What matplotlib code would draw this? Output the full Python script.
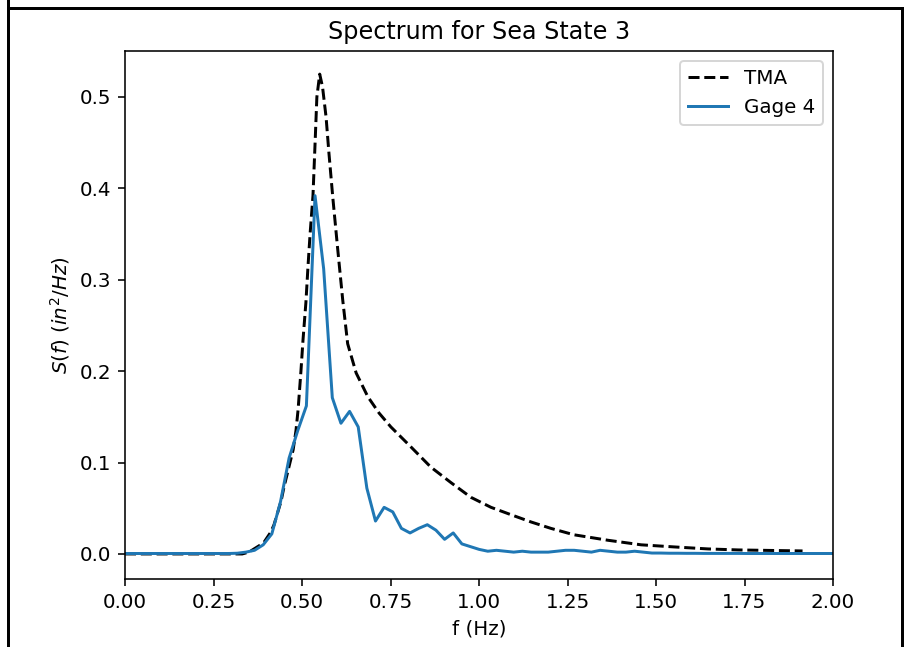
import matplotlib.pyplot as plt
import numpy as np
from matplotlib.lines import Line2D

# Gage 4 measured spectrum, frequency grid step
df = 0.0244
gage4 = [0.0005, 0.0005, 0.0005, 0.0005, 0.0005, 0.0005, 0.0005, 0.0005, 0.0005, 0.0005,
         0.0005, 0.0005, 0.0005, 0.0008, 0.002, 0.004, 0.010, 0.022, 0.057, 0.105,
         0.135, 0.162, 0.392, 0.312, 0.171, 0.143, 0.156, 0.139, 0.072, 0.036,
         0.051, 0.046, 0.028, 0.023, 0.028, 0.032, 0.026, 0.016, 0.023, 0.011,
         0.008, 0.005, 0.003, 0.004, 0.003, 0.002, 0.003, 0.002, 0.002, 0.002,
         0.003, 0.004, 0.004, 0.003, 0.002, 0.004, 0.003, 0.002, 0.002, 0.003,
         0.002, 0.001, 0.001, 0.0008, 0.0008, 0.0007, 0.0007, 0.0006, 0.0006, 0.0006,
         0.0006, 0.0006, 0.0005, 0.0005, 0.0005, 0.0005, 0.0005, 0.0005, 0.0005, 0.0005,
         0.0005, 0.0005, 0.0005]
f_gage = np.arange(len(gage4)) * df

# TMA target spectrum
f_tma = [0.0, 0.331, 0.350, 0.379, 0.393, 0.412, 0.421, 0.441, 0.449, 0.475,
         0.483, 0.489, 0.497, 0.503, 0.511, 0.517, 0.523, 0.531, 0.537, 0.542,
         0.550, 0.558, 0.568, 0.576, 0.587, 0.601, 0.615, 0.629, 0.653, 0.686,
         0.718, 0.751, 0.808, 0.864, 0.921, 0.977, 1.034, 1.090, 1.147, 1.203,
         1.268, 1.364, 1.458, 1.551, 1.647, 1.732, 1.914]
s_tma = [0.0, 0.0, 0.002, 0.009, 0.013, 0.024, 0.032, 0.058, 0.073, 0.114,
         0.135, 0.158, 0.200, 0.235, 0.275, 0.315, 0.351, 0.392, 0.450, 0.500,
         0.525, 0.511, 0.478, 0.439, 0.390, 0.333, 0.278, 0.230, 0.198, 0.172,
         0.154, 0.139, 0.117, 0.095, 0.078, 0.062, 0.051, 0.043, 0.035, 0.028,
         0.021, 0.015, 0.010, 0.0077, 0.0055, 0.0044, 0.0033]

fig = plt.figure(figsize=(9.11 / 1.43, 6.47 / 1.43), dpi=143)
ax = fig.add_axes([125 / 911, 1 - 579 / 647, 708 / 911, 528 / 647])

ax.plot(f_tma, s_tma, 'k--', label='TMA')
ax.plot(f_gage, gage4, label='Gage 4')

ax.set_xlim(0, 2)
ax.set_ylim(-0.0274, 0.5503)
ax.set_xlabel('f (Hz)')
ax.set_ylabel(r'$S(f)\ (in^2/Hz)$')
ax.set_title('Spectrum for Sea State 3')
ax.legend(loc='upper right')

# screenshot frame
for xs, ys in [([8, 8], [0, 647]), ([8, 902], [8, 8]), ([902, 902], [8, 647])]:
    fig.add_artist(Line2D(np.array(xs) / 911, 1 - np.array(ys) / 647,
                          transform=fig.transFigure, color='black', lw=1.5))

fig.savefig('out.png', dpi=143)
